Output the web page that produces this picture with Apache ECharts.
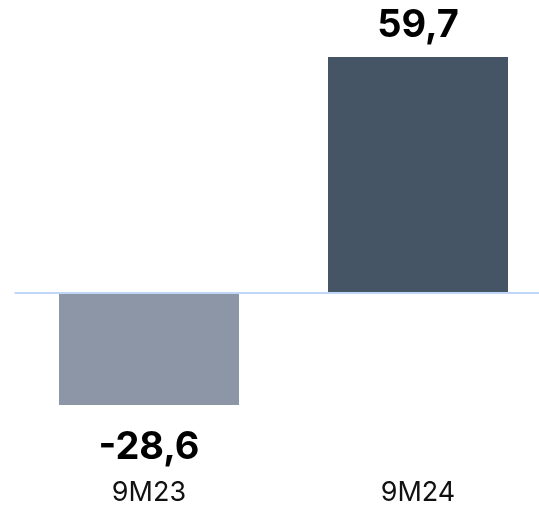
<!DOCTYPE html>
<html><head><meta charset="utf-8">
<script src="https://cdn.jsdelivr.net/npm/echarts@6/dist/echarts.min.js"></script>
<style>html,body{margin:0;padding:0;background:#fff;overflow:hidden}#c{width:560px;height:506px}</style>
</head><body><div id="c"></div>
<script>
const categories = ['9M23', '9M24'];
const values = [-28.6, 59.7];
const labels = ['-28,6', '59,7'];
const barColors = ['#8c96a6', '#465566'];

const chart = echarts.init(document.getElementById('c'));
chart.setOption({
  animation: false,
  grid: { left: 14.5, right: 7.5, top: 16.5, height: 436.2 },
  xAxis: {
    type: 'category', data: categories,
    axisLine: { show: false, onZero: false }, axisTick: { show: false },
    axisLabel: { fontFamily: 'Inter', fontSize: 27, color: '#111', margin: 29 }
  },
  yAxis: { type: 'value', min: -40, max: 70, show: false, splitLine: { show: false } },
  series: [{
    type: 'bar', barWidth: 180,
    data: values.map((v, i) => ({
      value: v,
      itemStyle: { color: barColors[i] },
      label: {
        show: true, position: v >= 0 ? 'top' : 'bottom', distance: v >= 0 ? 13 : 24,
        formatter: labels[i], fontFamily: 'Inter', fontWeight: 'bold', fontSize: 38, color: '#000'
      }
    })),
    markLine: {
      silent: true, symbol: 'none', label: { show: false },
      lineStyle: { color: '#bfd6f7', width: 2, type: 'solid' },
      data: [{ yAxis: 0 }]
    }
  }]
});
</script></body></html>
